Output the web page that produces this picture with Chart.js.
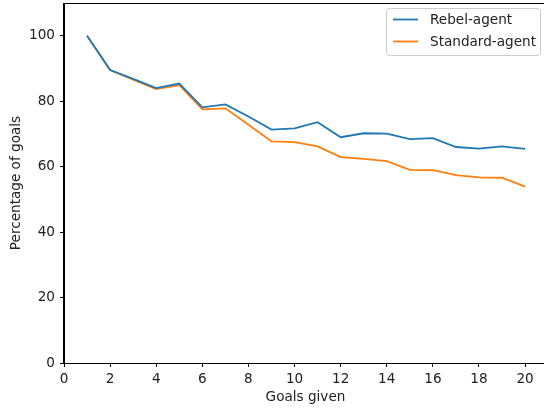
<!DOCTYPE html>
<html>
<head>
<meta charset="utf-8">
<script src="https://cdn.jsdelivr.net/npm/chart.js@4.4.1/dist/chart.umd.min.js"></script>
<style>
  html, body { margin: 0; padding: 0; background: #fff; overflow: hidden; }
  #wrap { width: 548px; height: 409px; }
</style>
</head>
<body>
<div id="wrap"><canvas id="c" width="548" height="409"></canvas></div>
<script>
const goalsGiven = [1, 2, 3, 4, 5, 6, 7, 8, 9, 10, 11, 12, 13, 14, 15, 16, 17, 18, 19, 20];
const rebelAgent = [100, 89.5, 86.8, 84.0, 85.4, 78.1, 79.0, 75.3, 71.3, 71.7, 73.6, 69.0, 70.2, 70.1, 68.4, 68.7, 66.0, 65.5, 66.2, 65.4];
const standardAgent = [100, 89.5, 86.6, 83.7, 84.9, 77.5, 77.8, 72.8, 67.7, 67.5, 66.2, 62.9, 62.4, 61.7, 59.0, 58.9, 57.4, 56.7, 56.6, 53.9];
const seriesNames = ['Rebel-agent', 'Standard-agent'];
const xTickValues = [0, 2, 4, 6, 8, 10, 12, 14, 16, 18, 20];
const yTickValues = [0, 20, 40, 60, 80, 100];
const xTitle = 'Goals given';
const yTitle = 'Percentage of goals';

const FONT = 'DejaVu Sans';
const FS = 13.6;
const TEXT = '#222';
const toPts = (arr) => goalsGiven.map((g, i) => ({ x: g, y: arr[i] }));

const framePlugin = {
  id: 'frame',
  afterDraw(chart) {
    const { ctx, chartArea: a } = chart;
    ctx.save();
    ctx.strokeStyle = '#000';
    ctx.lineWidth = 1;
    ctx.strokeRect(Math.round(a.left) - 0.5, Math.round(a.top) + 0.5, Math.round(a.right - a.left) + 1, Math.round(a.bottom - a.top));
    // legend
    const x0 = 386.5, y0 = 8.5, w = 154, h = 47, r = 3;
    ctx.fillStyle = 'rgba(255,255,255,0.8)';
    ctx.strokeStyle = '#cccccc';
    ctx.beginPath();
    ctx.moveTo(x0 + r, y0);
    ctx.lineTo(x0 + w - r, y0);
    ctx.arcTo(x0 + w, y0, x0 + w, y0 + r, r);
    ctx.lineTo(x0 + w, y0 + h - r);
    ctx.arcTo(x0 + w, y0 + h, x0 + w - r, y0 + h, r);
    ctx.lineTo(x0 + r, y0 + h);
    ctx.arcTo(x0, y0 + h, x0, y0 + h - r, r);
    ctx.lineTo(x0, y0 + r);
    ctx.arcTo(x0, y0, x0 + r, y0, r);
    ctx.closePath();
    ctx.fill();
    ctx.stroke();
    ctx.font = FS + 'px "' + FONT + '"';
    ctx.textBaseline = 'middle';
    chart.data.datasets.forEach((ds, i) => {
      const yy = 19.5 + i * 22;
      ctx.strokeStyle = ds.borderColor;
      ctx.lineWidth = 1.8;
      ctx.beginPath();
      ctx.moveTo(393, yy);
      ctx.lineTo(418, yy);
      ctx.stroke();
      ctx.fillStyle = TEXT;
      ctx.fillText(ds.label, 430, yy + 0.5);
    });
    ctx.restore();
  }
};

new Chart(document.getElementById('c'), {
  type: 'line',
  data: {
    datasets: [
      { label: seriesNames[0], data: toPts(rebelAgent), borderColor: '#1f77b4', backgroundColor: '#1f77b4', borderWidth: 1.8, pointRadius: 0, tension: 0, fill: false },
      { label: seriesNames[1], data: toPts(standardAgent), borderColor: '#ff7f0e', backgroundColor: '#ff7f0e', borderWidth: 1.8, pointRadius: 0, tension: 0, fill: false }
    ]
  },
  options: {
    responsive: false,
    animation: false,
    layout: { padding: { top: 3, right: 1, left: 0, bottom: 0 } },
    plugins: { legend: { display: false }, tooltip: { enabled: false } },
    scales: {
      x: {
        type: 'linear',
        min: 0,
        max: 20.95,
        afterBuildTicks: (s) => { s.ticks = xTickValues.map(v => ({ value: v })); },
        afterFit: (s) => { s.height = 46; s.paddingLeft = 0; s.paddingRight = 0; },
        ticks: { color: TEXT, padding: 4, font: { family: FONT, size: FS }, maxRotation: 0, autoSkip: false },
        grid: { display: true, drawOnChartArea: false, drawTicks: true, tickLength: 4, tickColor: '#000' },
        border: { display: true, color: '#000', width: 1 },
        title: { display: true, text: xTitle, color: TEXT, font: { family: FONT, size: FS }, padding: { top: 3, bottom: 3 } }
      },
      y: {
        type: 'linear',
        min: 0,
        max: 110,
        afterBuildTicks: (s) => { s.ticks = yTickValues.map(v => ({ value: v })); },
        afterFit: (s) => { s.width = 64; s.paddingTop = 0; s.paddingBottom = 0; },
        ticks: { color: TEXT, padding: 5, font: { family: FONT, size: FS }, autoSkip: false },
        grid: { display: true, drawOnChartArea: false, drawTicks: true, tickLength: 4, tickColor: '#000' },
        border: { display: true, color: '#000', width: 1 },
        title: { display: true, text: yTitle, color: TEXT, font: { family: FONT, size: FS }, padding: { top: 8, bottom: 0 } }
      }
    }
  },
  plugins: [framePlugin]
});
</script>
</body>
</html>
